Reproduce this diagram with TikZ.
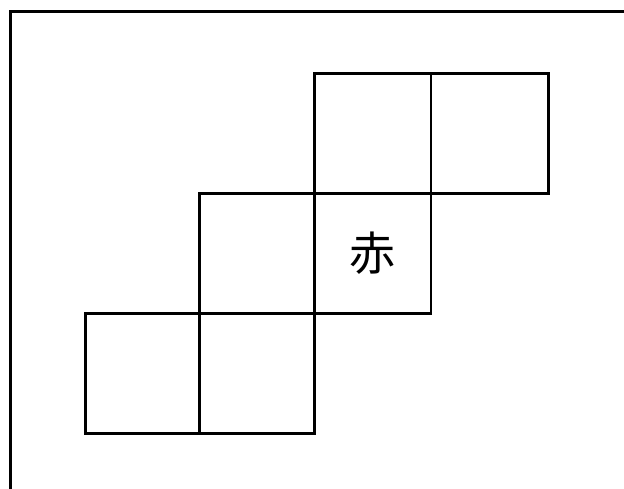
\documentclass[tikz,border=0pt]{standalone}
\usepackage{fontspec}
\newfontfamily\cjk{Noto Sans CJK JP}
\begin{document}
\begin{tikzpicture}[x=1pt,y=-1pt,
  cell/.style={draw=black,line width=2.7pt,line join=miter},
  frame/.style={draw=black,line width=3pt}]
\useasboundingbox (0,0) rectangle (624,488);
\clip (0,0) rectangle (624,488);
\draw[frame] (10.5,500) -- (10.5,11.5) -- (640,11.5);
% top row
\draw[cell] (314.7,73.3) rectangle (431,193.7);
\draw[cell] (431,73.3) rectangle (548.7,193.7);
% middle row
\draw[cell] (199.5,193.7) rectangle (314.7,313.7);
\draw[cell] (314.7,193.7) rectangle (431,313.7);
% bottom row
\draw[cell] (85.3,313.7) rectangle (199.5,433.7);
\draw[cell] (199.5,313.7) rectangle (314.7,433.7);
\node[font=\cjk\fontsize{46}{46}\selectfont,inner sep=0pt] (red) at (372.8,253.2) {赤};
\end{tikzpicture}
\end{document}
